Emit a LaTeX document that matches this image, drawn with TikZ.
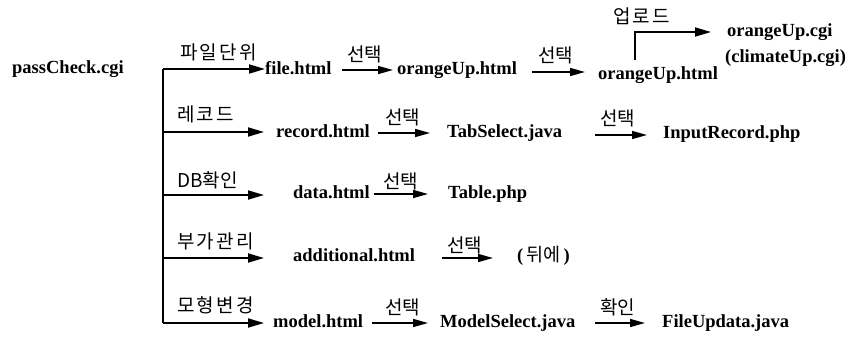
\documentclass[tikz,border=0pt]{standalone}
\usepackage{fontspec}
\setmainfont{Liberation Serif}
\newfontfamily\kr{Noto Sans CJK KR}
\newfontfamily\krwide[LetterSpace=12]{Noto Sans CJK KR}
\usetikzlibrary{arrows.meta}
\begin{document}
\begin{tikzpicture}[x=1pt,y=-1pt,
  file/.style={anchor=base west,inner sep=0pt,font=\fontsize{18.5}{19}\selectfont\bfseries},
  tag/.style={anchor=west,inner sep=0pt,font=\fontsize{19}{19}\selectfont\krwide},
  pick/.style={anchor=west,inner sep=0pt,font=\fontsize{19}{19}\selectfont\kr},
  arr/.style={line width=1.8pt,-{Triangle[length=16pt,width=9pt]}},
  step arr/.style={line width=1.5pt,-{Triangle[length=15pt,width=8pt]}},
  trunk/.style={line width=1.8pt}]
\useasboundingbox (0,0) rectangle (864,338);

% start page
\node[file] (pc) at (12,73) {passCheck.cgi};

% branch points on the trunk
\coordinate (b1) at (163,69);
\coordinate (b2) at (163,132);
\coordinate (b3) at (163,195);
\coordinate (b4) at (163,258);
\coordinate (b5) at (163,323);
\draw[trunk] (b1) -- (b5);

% row 1
\node[file] (f1) at (265,74) {file.html};
\node[file] (f2) at (397,74) {orangeUp.html};
\node[file] (f3) at (598,79) {orangeUp.html};
\node[file] (f4) at (727,36) {orangeUp.cgi};
\node[file] (f5) at (725,62) {(climateUp.cgi)};
\node[tag] (t1) at (180,52) {파일단위};
\node[pick] (s11) at (347,54) {선택};
\node[pick] (s12) at (538,55) {선택};
\node[tag] (u1) at (613,16) {업로드};
\coordinate (e1) at (265,69);
\draw[arr] (b1) -- (e1);
\coordinate (a11) at (342,70);
\coordinate (a12) at (393,70);
\draw[step arr] (a11) -- (a12);
\coordinate (a21) at (532,72);
\coordinate (a22) at (585,72);
\draw[step arr] (a21) -- (a22);
\coordinate (up0) at (635,60);
\coordinate (up1) at (635,32);
\coordinate (up2) at (711,32);
\draw[arr] (up0) -- (up1) -- (up2);

% row 2
\node[file] (r1) at (276,137) {record.html};
\node[file] (r2) at (447,137) {TabSelect.java};
\node[file] (r3) at (663,138) {InputRecord.php};
\node[tag] (t2) at (177,114) {레코드};
\node[pick] (s21) at (385,117) {선택};
\node[pick] (s22) at (600,118) {선택};
\coordinate (e2) at (264,132);
\draw[arr] (b2) -- (e2);
\draw[step arr] (378,133) coordinate (c21) -- (430,133) coordinate (c22);
\draw[step arr] (595,135) coordinate (c23) -- (647,135) coordinate (c24);

% row 3
\node[file] (d1) at (293,198) {data.html};
\node[file] (d2) at (448,198) {Table.php};
\node[pick] (t3) at (177,180) {DB확인};
\node[pick] (s31) at (383,181) {선택};
\coordinate (e3) at (264,195);
\draw[arr] (b3) -- (e3);
\draw[step arr] (374,194) coordinate (c31) -- (428,194) coordinate (c32);

% row 4
\node[file] (g1) at (293,261) {additional.html};
\node[file] (g2) at (517,261) {(\,{\kr\mdseries 뒤에}\,)};
\node[tag] (t4) at (177,241) {부가관리};
\node[pick] (s41) at (447,245) {선택};
\coordinate (e4) at (264,258);
\draw[arr] (b4) -- (e4);
\draw[step arr] (442,258) coordinate (c41) -- (493,258) coordinate (c42);

% row 5
\node[file] (m1) at (273,327) {model.html};
\node[file] (m2) at (440,327) {ModelSelect.java};
\node[file] (m3) at (662,327) {FileUpdata.java};
\node[tag] (t5) at (177,305) {모형변경};
\node[pick] (s51) at (385,307) {선택};
\node[pick] (s52) at (600,307) {확인};
\coordinate (e5) at (264,323);
\draw[arr] (b5) -- (e5);
\draw[step arr] (372,323) coordinate (c51) -- (428,323) coordinate (c52);
\draw[step arr] (595,323) coordinate (c53) -- (645,323) coordinate (c54);
\end{tikzpicture}
\end{document}
